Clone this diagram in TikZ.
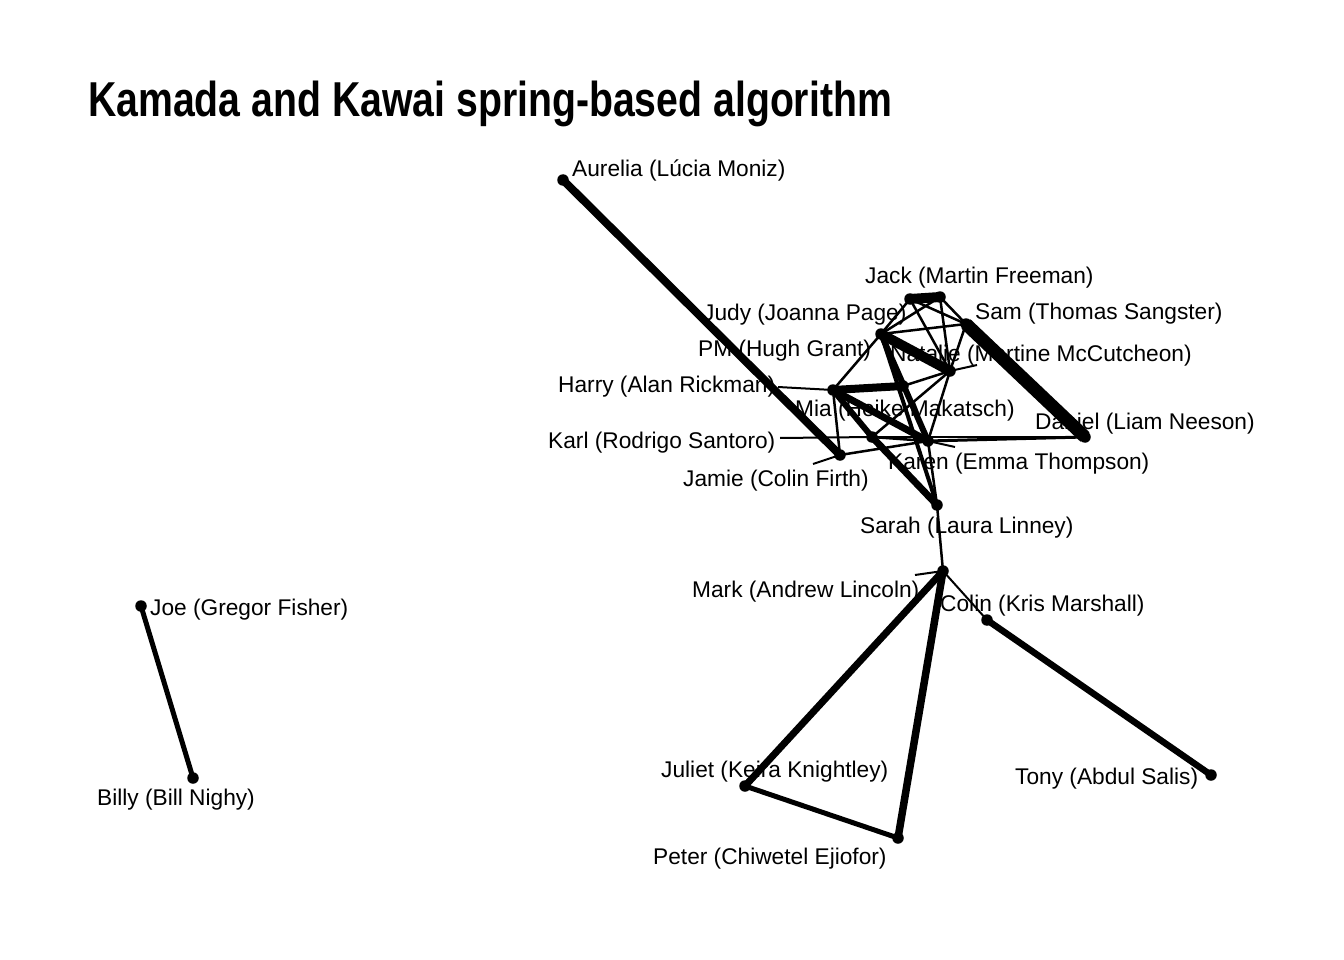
\documentclass[tikz,border=0pt]{standalone}
\usepackage{fontspec}
\setmainfont{Liberation Sans}
\begin{document}
\begin{tikzpicture}[x=1pt,y=-1pt,
  lbl/.style={anchor=west, inner sep=0pt, yshift=-3pt, font=\fontsize{22.7}{26}\selectfont},
  dotnode/.style={circle, fill=black, inner sep=0pt, minimum size=11.5pt},
  edge/.style={line width=#1},
  seg/.style={line width=2pt}]
\useasboundingbox (0,0) rectangle (1344,960);
% title
\node[anchor=base west, inner sep=0pt] (title) at (88,117)
  {\scalebox{0.8}[1]{\fontsize{49}{55}\selectfont\bfseries Kamada and Kawai spring-based algorithm}};
% node positions
\coordinate (aurelia) at (563,180);
\coordinate (judy) at (910,299);
\coordinate (jack) at (940,297);
\coordinate (sam) at (966,324);
\coordinate (pm) at (881,334);
\coordinate (natalie) at (950,371);
\coordinate (harry) at (833,390);
\coordinate (mia) at (903,386);
\coordinate (karl) at (872,437);
\coordinate (karen) at (928,441);
\coordinate (jamie) at (840,455);
\coordinate (daniel) at (1085,437);
\coordinate (sarah) at (937,505);
\coordinate (mark) at (943,571);
\coordinate (colin) at (987,620);
\coordinate (juliet) at (745,786);
\coordinate (peter) at (898,838);
\coordinate (tony) at (1211,775);
\coordinate (joe) at (141,606);
\coordinate (billy) at (193,778);
% labels
\node[lbl] (laurelia) at (572,167) {Aurelia (Lúcia Moniz)};
\node[lbl] (ljack) at (865,275) {Jack (Martin Freeman)};
\node[lbl] (ljudy) at (703,312) {Judy (Joanna Page)};
\node[lbl] (lsam) at (975,311) {Sam (Thomas Sangster)};
\node[lbl] (lpm) at (698,348) {PM (Hugh Grant)};
\node[lbl] (lnatalie) at (890,353) {Natalie (Martine McCutcheon)};
\node[lbl] (lharry) at (558,384) {Harry (Alan Rickman)};
\node[lbl] (lmia) at (795,408) {Mia (Heike Makatsch)};
\node[lbl] (ldaniel) at (1035,421) {Daniel (Liam Neeson)};
\node[lbl] (lkarl) at (548,440) {Karl (Rodrigo Santoro)};
\node[lbl] (lkaren) at (888,461) {Karen (Emma Thompson)};
\node[lbl] (ljamie) at (683,478) {Jamie (Colin Firth)};
\node[lbl] (lsarah) at (860,525) {Sarah (Laura Linney)};
\node[lbl] (lmark) at (692,589) {Mark (Andrew Lincoln)};
\node[lbl] (lcolin) at (940,603) {Colin (Kris Marshall)};
\node[lbl] (ljoe) at (150,607) {Joe (Gregor Fisher)};
\node[lbl] (ljuliet) at (661,769) {Juliet (Keira Knightley)};
\node[lbl] (ltony) at (1015,776) {Tony (Abdul Salis)};
\node[lbl] (lbilly) at (97,797) {Billy (Bill Nighy)};
\node[lbl] (lpeter) at (653,856) {Peter (Chiwetel Ejiofor)};
% label segments
\coordinate (sharry) at (778,387);
\coordinate (skarl) at (780,438);
\coordinate (sjamie) at (813,464);
\coordinate (snatalie) at (977,365);
\coordinate (skaren) at (955,447);
\coordinate (smark) at (915,575);
\draw[seg] (sharry) -- (harry);
\draw[seg] (skarl) -- (karl);
\draw[seg] (sjamie) -- (jamie);
\draw[seg] (snatalie) -- (natalie);
\draw[seg] (skaren) -- (karen);
\draw[seg] (smark) -- (mark);
% edges
\draw[edge=8pt] (aurelia) -- (jamie);
\draw[edge=5pt] (joe) -- (billy);
\draw[edge=7pt] (mark) -- (juliet);
\draw[edge=7.5pt] (mark) -- (peter);
\draw[edge=5pt] (juliet) -- (peter);
\draw[edge=6.5pt] (colin) -- (tony);
\draw[edge=2pt] (mark) -- (colin);
\draw[edge=2.5pt] (mark) -- (sarah);
\draw[edge=13pt] (sam) -- (daniel);
\draw[edge=3pt] (daniel) -- (karen);
\draw[edge=2.5pt] (daniel) -- (karl);
\draw[edge=10pt] (jack) -- (judy);
\draw[edge=2.5pt] (jack) -- (pm);
\draw[edge=2.5pt] (jack) -- (natalie);
\draw[edge=2.5pt] (jack) -- (sam);
\draw[edge=2.5pt] (judy) -- (pm);
\draw[edge=2.5pt] (judy) -- (sam);
\draw[edge=2.5pt] (judy) -- (natalie);
\draw[edge=2.5pt] (pm) -- (sam);
\draw[edge=10pt] (pm) -- (natalie);
\draw[edge=2.5pt] (sam) -- (natalie);
\draw[edge=2.5pt] (pm) -- (harry);
\draw[edge=6pt] (pm) -- (karen);
\draw[edge=4pt] (pm) -- (sarah);
\draw[edge=8pt] (harry) -- (mia);
\draw[edge=7pt] (harry) -- (karen);
\draw[edge=6pt] (harry) -- (karl);
\draw[edge=7pt] (karl) -- (sarah);
\draw[edge=2.5pt] (harry) -- (jamie);
\draw[edge=2.5pt] (jamie) -- (karen);
\draw[edge=2.5pt] (karl) -- (karen);
\draw[edge=2.5pt] (mia) -- (natalie);
\draw[edge=2.5pt] (karl) -- (natalie);
\draw[edge=2.5pt] (karen) -- (sarah);
\draw[edge=2.5pt] (natalie) -- (karen);
\draw[edge=2.5pt] (mia) -- (karen);
% dots
\foreach \n in {aurelia,judy,jack,sam,pm,natalie,harry,mia,karl,karen,jamie,daniel,sarah,mark,colin,juliet,peter,tony,joe,billy}
  \node[dotnode] (d\n) at (\n) {};
\end{tikzpicture}
\end{document}
